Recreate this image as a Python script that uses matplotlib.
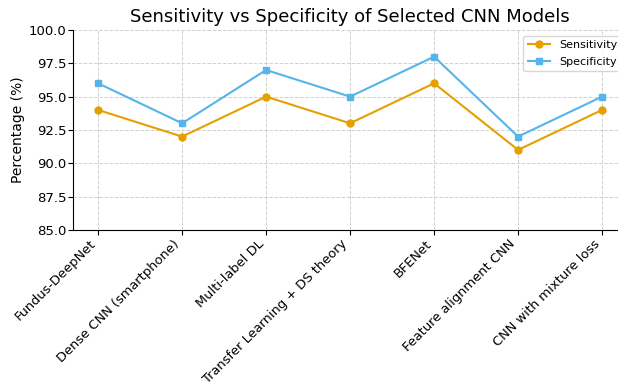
import matplotlib.pyplot as plt

# =========================
# DATA
# =========================
models = [
    "Fundus-DeepNet",
    "Dense CNN (smartphone)",
    "Multi-label DL",
    "Transfer Learning + DS theory",
    "BFENet",
    "Feature alignment CNN",
    "CNN with mixture loss",
]
sensitivity = [94, 92, 95, 93, 96, 91, 94]
specificity = [96, 93, 97, 95, 98, 92, 95]
y_ticks = [85, 87.5, 90, 92.5, 95, 97.5, 100]


def main():
    fig = plt.figure(figsize=(6.18, 3.85), dpi=100)
    # axes runs slightly past the right edge, as in the (cropped) reference
    ax = fig.add_axes([0.118, 0.403, 0.897, 0.519])

    ax.plot(models, sensitivity, marker="o", color="#E69F00", markersize=5,
            linewidth=1.5, label="Sensitivity")
    ax.plot(models, specificity, marker="s", color="#56B4E9", markersize=5,
            linewidth=1.5, label="Specificity")

    ax.set_ylim(85, 100)
    ax.set_yticks(y_ticks)
    ax.set_yticklabels([f"{v:.1f}" for v in y_ticks])
    ax.tick_params(axis="y", labelsize=9.5, pad=1)
    ax.tick_params(axis="x", labelsize=9.4, pad=2)
    plt.setp(ax.get_xticklabels(), rotation=45, ha="right")

    ax.set_ylabel("Percentage (%)", fontsize=10, labelpad=3)
    ax.set_title("Sensitivity vs Specificity of Selected CNN Models", fontsize=13)
    ax.grid(True, linestyle="--", color="#d0d0d0", linewidth=0.7)
    ax.spines["top"].set_visible(False)
    ax.spines["right"].set_visible(False)

    ax.legend(loc="upper right", fontsize=8, labelspacing=0.6)

    fig.savefig("out.png", dpi=100)


if __name__ == "__main__":
    main()
